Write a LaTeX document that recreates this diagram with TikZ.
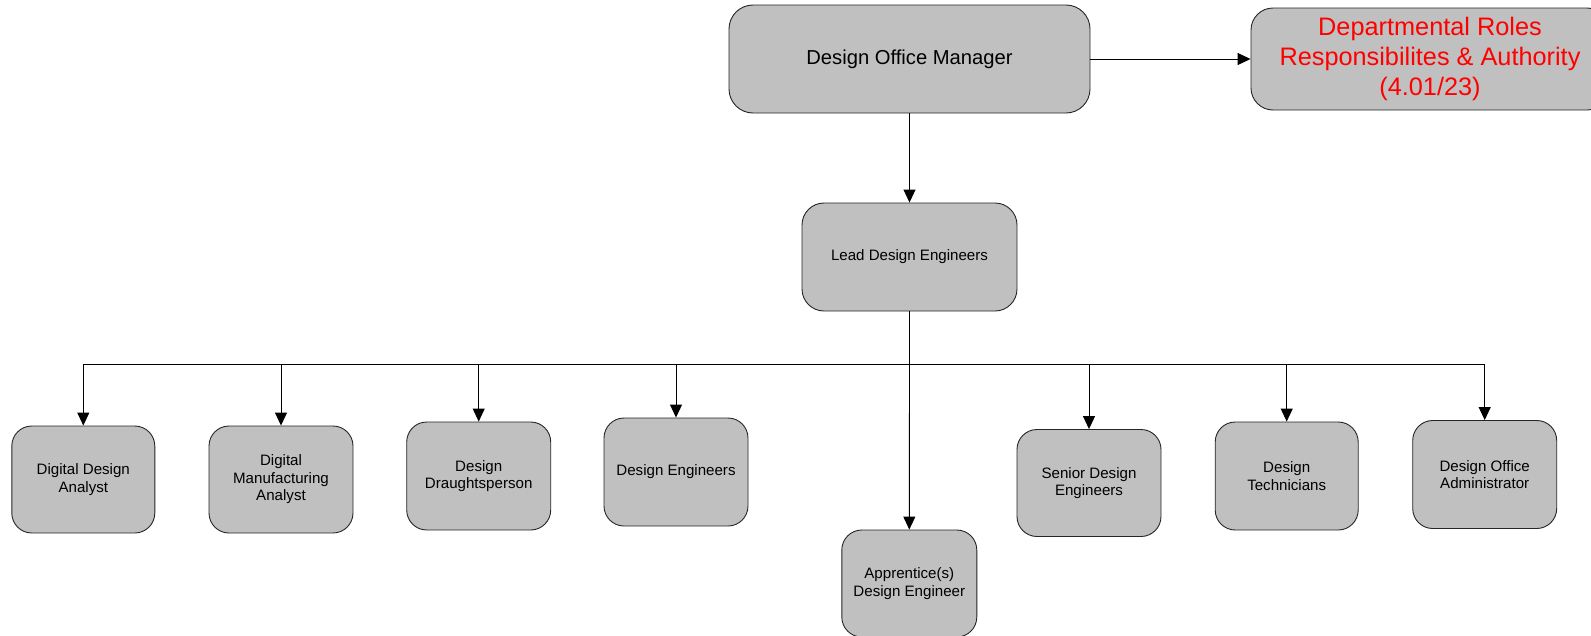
\documentclass[tikz,border=0pt]{standalone}
\usepackage{fontspec}
\setmainfont{Liberation Sans}
\usetikzlibrary{arrows.meta}
\definecolor{boxgray}{HTML}{C0C0C0}
\begin{document}
\begin{tikzpicture}[x=1pt,y=-1pt,
  box/.style={draw=black!85,fill=boxgray,line width=0.9pt,rounded corners=20pt,
    inner sep=0pt,align=center,font=\fontsize{15.1}{17.5}\selectfont,
    minimum width=144pt,minimum height=108pt},
  arr/.style={line width=0.9pt,-{Triangle[width=12pt,length=13pt]}},
  ln/.style={line width=0.9pt}]
\useasboundingbox (0,0) rectangle (1591,635);
\begin{scope}
\clip (0,0) rectangle (1591,635);
\node[box,minimum width=361pt,minimum height=108pt,rounded corners=24pt,
  font=\fontsize{20.2}{24}\selectfont] (dom) at (909.5,59) {Design Office Manager};
\node[box,minimum width=358pt,minimum height=102pt,rounded corners=22pt,
  text=red,font=\fontsize{25.3}{30}\selectfont] (dept) at (1430,59)
  {Departmental Roles\\Responsibilites \& Authority\\(4.01/23)};
\node[box,minimum width=215pt,minimum height=108pt,rounded corners=22pt] (lde) at (909.5,257) {Lead Design Engineers};
\node[box,minimum width=143pt,minimum height=107pt] (dda) at (83.3,479.5) {Digital Design\\Analyst};
\node[box,minimum height=107pt] (dma) at (281,479.5) {Digital\\Manufacturing\\Analyst};
\node[box] (ddp) at (478.7,476) {Design\\Draughtsperson};
\node[box] (de) at (676,472) {Design Engineers};
\node[box,minimum width=135pt,minimum height=107pt] (app) at (909.3,583.5) {Apprentice(s)\\Design Engineer};
\node[box,minimum height=107pt] (sde) at (1089,483) {Senior Design\\Engineers};
\node[box,minimum width=143pt] (dt) at (1286.7,476) {Design\\Technicians};
\node[box] (doa) at (1484.7,474.5) {Design Office\\Administrator};
\coordinate (j) at (909.5,364);
\draw[arr] (dom.east) -- (dept.west);
\draw[arr] (dom.south) -- (lde.north);
\draw[ln] (lde.south) -- (j);
\draw[arr] (j) -- (app.north);
\foreach \n in {dda,dma,ddp,de,sde,dt,doa}
  \draw[arr] (j) -| (\n.north);
\end{scope}
\end{tikzpicture}
\end{document}
